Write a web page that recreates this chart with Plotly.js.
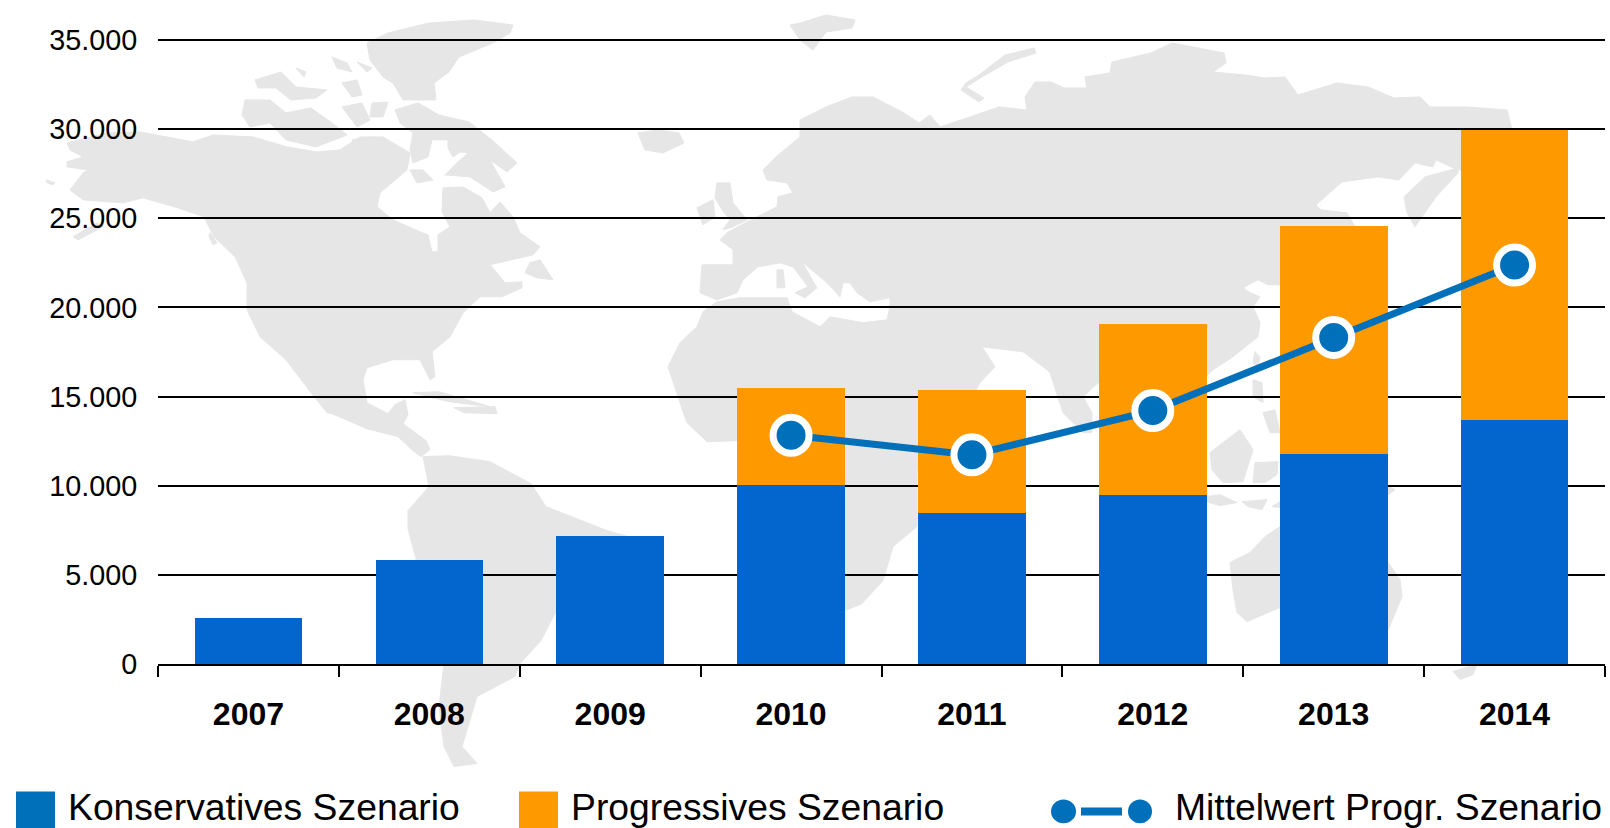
<!DOCTYPE html>
<html>
<head>
<meta charset="utf-8">
<script src="https://cdn.plot.ly/plotly-3.0.1.min.js"></script>
<style>html,body{margin:0;padding:0;background:#fff;overflow:hidden}</style>
</head>
<body>
<div id="chart" style="width:1610px;height:828px"></div>
<script>
// ---- chart values ----
const years = ['2007','2008','2009','2010','2011','2012','2013','2014'];
const konservativ = [2560,5810,7155,10030,8460,9470,11805,13710];
const progressivZuwachs = [null,null,null,5470,6930,9620,12775,16250];
const mittelwertYears = ['2010','2011','2012','2013','2014'];
const mittelwert = [12830,11730,14215,18320,22380];
const yTickVals = [0,5000,10000,15000,20000,25000,30000,35000];
const yTickText = ['0','5.000','10.000','15.000','20.000','25.000','30.000','35.000'];
const legendLabels = ['Konservatives Szenario','Progressives Szenario','Mittelwert Progr. Szenario'];

// ---- page geometry (pixels) ----
const W=1610,H=828,L=158,R=1605,T=36,B=664.5;
const yTop=35000*(B-T)/(B-40);   // a little headroom so the 35.000 gridline is drawn
const px=x=>(x-L)/(R-L), py=y=>1-(y-T)/(B-T);

// ---- decorative world map behind the chart, traced outlines in page pixels ----
const mapOutlines = [
 // North America
 [140,132,193,142,213,135,253,137,287,147,317,152,340,150,360,137,383,137,410,153,407,170,380,193,377,207,393,220,420,232,428,235,432,252,438,252,438,235,450,227,442,212,443,188,463,187,482,198,490,213,500,202,513,217,520,233,540,247,533,255,490,265,505,283,522,282,522,288,502,297,480,297,463,313,450,337,432,352,435,377,430,380,420,360,393,360,367,368,363,380,367,403,388,414,395,405,405,400,408,415,403,424,426,441,430,450,421,457,413,451,398,437,367,429,332,414,327,413,311,393,286,360,260,337,247,310,247,283,235,257,214,237,204,217,178,208,143,198,123,203,83,200,70,190,83,173,88,170,67,167,67,162,83,157,70,150,67,143,107,133],
 [73,237,97,223,103,227,78,240],[47,180,55,183,52,185,46,182],[210,233,217,243,213,245,209,236],
 // Baffin and Arctic islands
 [400,123,395,110,418,103,439,115,469,122,492,140,517,163,507,172,490,160,505,187,493,192,470,177,445,175,457,163,468,153,460,152,453,157,448,148,448,140,432,140,428,157,413,163,410,150,413,133],
 [410,170,423,170,433,180,417,183],
 [245,100,270,100,286,113,311,108,332,123,347,135,316,147,286,140,270,123,250,127,242,115],
 [255,80,281,72,296,87,327,90,316,98,291,100,276,88,258,88],
 [332,57,347,63,352,72,337,68],[357,62,372,68,367,72],[342,83,357,80,362,95,352,97],[296,68,306,72,304,77],
 [342,107,362,103,370,120,357,127],[372,103,388,102,383,117,370,117],[352,140,372,137,380,148,357,150],
 // Greenland, Newfoundland, Iceland, Caribbean
 [367,43,388,33,429,23,474,20,513,25,510,33,495,42,459,57,449,72,434,83,436,100,403,100,393,83,383,77,370,60],
 [525,273,530,263,540,260,553,280,537,278],
 [638,133,658,130,679,133,684,143,663,153,645,150],
 [413,393,439,392,490,407,449,402],[454,408,495,407,497,414,464,413],
 // South America
 [423,457,449,456,490,462,531,484,546,507,607,531,663,547,638,580,555,614,541,641,520,664,515,677,477,697,462,747,477,764,454,767,444,747,439,707,444,665,408,529,408,511,429,487],
 // Eurasia and Africa
 [800,120,826,107,852,97,873,97,904,113,919,123,930,115,940,127,970,117,999,107,1027,110,1025,97,1035,82,1051,82,1064,88,1087,88,1085,77,1110,73,1112,62,1151,53,1172,43,1193,47,1224,53,1226,63,1213,72,1245,75,1265,78,1285,77,1298,95,1337,83,1368,87,1394,98,1420,97,1430,107,1467,107,1507,110,1512,130,1516,170,1458,170,1436,160,1433,167,1415,163,1399,180,1378,177,1342,182,1316,205,1321,210,1347,213,1355,227,1300,285,1268,285,1258,280,1243,288,1250,293,1260,297,1253,307,1260,323,1258,337,1233,357,1213,370,1206,377,1150,400,1098,383,1083,397,1092,413,1092,433,1083,433,1063,413,1050,373,1047,370,1023,352,982,347,995,367,980,383,960,420,930,460,917,471,917,527,893,547,883,581,862,604,845,611,800,620,790,560,770,480,737,441,707,442,687,423,680,403,668,367,680,343,697,327,703,312,717,302,740,298,787,298,792,312,820,327,830,317,863,323,887,320,890,307,890,298,870,302,857,293,850,283,843,283,840,297,827,283,802,262,815,285,817,288,805,298,795,293,808,287,793,267,780,263,758,267,743,280,737,293,717,300,700,293,702,265,733,265,733,250,720,240,727,233,747,222,777,207,778,197,793,193,787,183,767,180,763,170,776,157,800,137],
 // Islands of Europe and the Arctic
 [777,270,783,270,785,288,777,288],
 [717,183,730,183,733,203,747,220,733,227,723,230,730,220,722,210,715,198],
 [697,208,713,200,715,217,703,225],
 [1034,48,1005,55,979,75,966,83,961,90,979,102,984,98,966,87,982,77,1008,62,1036,53],
 [790,25,800,23,826,15,855,20,852,28,826,32,813,50,800,40],
 // East Asia, Indonesia
 [1404,197,1425,177,1458,168,1458,173,1436,197,1415,227,1407,213],
 [1255,352,1260,357,1258,367,1253,363],[1253,380,1262,383,1263,403,1253,397],[1263,413,1275,410,1280,433,1270,433],
 [1210,453,1240,430,1253,450,1243,482,1223,483,1212,470],
 [1255,463,1278,462,1277,475,1265,483,1253,483],
 [1206,497,1220,495,1237,503,1220,506,1206,502],[1242,502,1267,500,1262,510,1248,507],[1272,507,1280,502,1280,508],
 [1330,475,1386,485,1395,490,1386,497,1330,500],
 // Australia, New Zealand
 [1230,563,1250,553,1265,537,1280,527,1350,500,1386,560,1400,580,1402,597,1387,633,1377,647,1280,608,1247,622,1237,613,1233,590],
 [1453,672,1477,665,1473,675,1460,680]
];

function outlinePath(a){
  let s='';
  for(let i=0;i<a.length;i+=2){ s+=(i?'L':'M')+px(a[i]).toFixed(5)+' '+py(a[i+1]).toFixed(5); }
  return s+'Z';
}
const landColor='#e6e6e6';
const shapes = mapOutlines.map(a=>({type:'path',xref:'paper',yref:'paper',layer:'below',
  path:outlinePath(a),fillcolor:landColor,line:{color:landColor,width:1}}));

// ---- hand-placed legend ----
const legendBlue='#0070ba', orange='#ff9900', barBlue='#0366ce';
function box(x0,x1,y0,y1,c){return {type:'rect',xref:'paper',yref:'paper',layer:'above',
  x0:px(x0),x1:px(x1),y0:py(y1),y1:py(y0),fillcolor:c,line:{width:0}};}
function dot(x0,x1,y0,y1,c){return Object.assign(box(x0,x1,y0,y1,c),{type:'circle'});}
shapes.push(box(16,55,792,829,legendBlue));
shapes.push(box(519,558,792,829,orange));
shapes.push(dot(1051,1076,800,824,legendBlue));
shapes.push(dot(1128,1152,800,824,legendBlue));
shapes.push(box(1081,1122,808,816,legendBlue));

const legendFont='"Liberation Sans", Arial, sans-serif';
function legendText(t,x,size){return {text:t,xref:'paper',yref:'paper',x:px(x),y:py(808),xanchor:'left',yanchor:'middle',
  showarrow:false,borderpad:0,font:{family:legendFont,size:size,color:'#000'}};}

const data=[
 {type:'bar',x:years,y:konservativ,name:legendLabels[0],marker:{color:barBlue,line:{width:0}}},
 {type:'bar',x:years,y:progressivZuwachs,name:legendLabels[1],marker:{color:orange,line:{width:0}}},
 {type:'scatter',mode:'lines+markers',x:mittelwertYears,y:mittelwert,name:legendLabels[2],
  line:{color:legendBlue,width:7},marker:{color:legendBlue,size:36,line:{color:'#fff',width:7}}}
];

const layout={
 width:W,height:H,showlegend:false,barmode:'stack',bargap:0.405,
 margin:{l:L,r:W-R,t:T,b:H-B,pad:0},
 paper_bgcolor:'#fff',plot_bgcolor:'rgba(0,0,0,0)',
 font:{family:legendFont,color:'#000'},
 xaxis:{type:'category',categoryorder:'array',categoryarray:years,range:[-0.5,7.5],
   tickson:'boundaries',ticks:'outside',ticklen:11,tickwidth:2,tickcolor:'#000',
   showline:true,linecolor:'#000',linewidth:2,showgrid:false,zeroline:false,fixedrange:true,
   ticklabelstandoff:21,tickfont:{family:legendFont,size:32,weight:'bold',color:'#000'}},
 yaxis:{range:[0,yTop],tickmode:'array',tickvals:yTickVals,ticktext:yTickText,
   ticks:'outside',ticklen:14,tickcolor:'rgba(0,0,0,0)',tickwidth:0,
   showgrid:true,gridcolor:'#000',gridwidth:2,zeroline:false,showline:false,fixedrange:true,
   tickfont:{family:legendFont,size:28.8,color:'#000'}},
 shapes:shapes,
 annotations:[legendText(legendLabels[0],67,37.3),legendText(legendLabels[1],570,37.3),legendText(legendLabels[2],1174,37.3)]
};
Plotly.newPlot('chart',data,layout,{displayModeBar:false,staticPlot:true});
</script>
</body>
</html>
